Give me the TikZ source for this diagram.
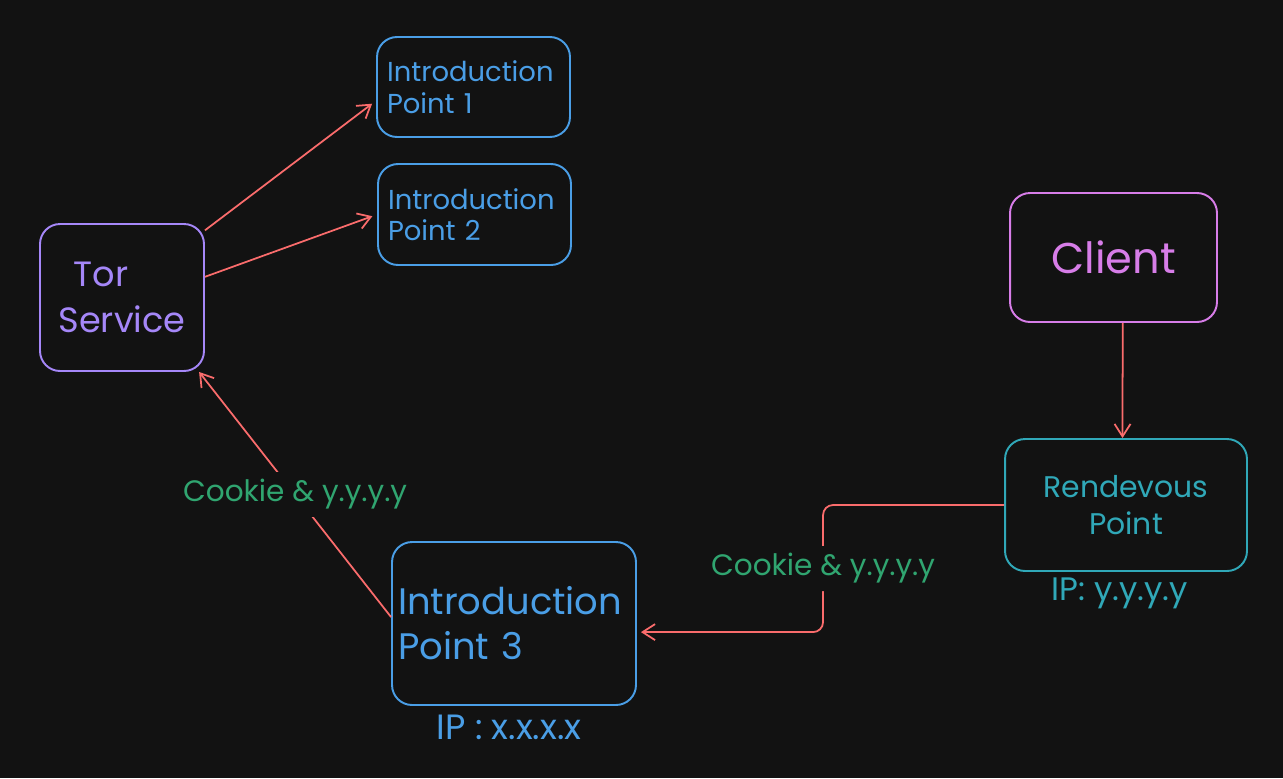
\documentclass[tikz,border=0pt]{standalone}
\usepackage{fontspec}
\setmainfont{Poppins}
\usepackage{tikz}
\usetikzlibrary{positioning}
\usetikzlibrary{arrows.meta}
\usetikzlibrary{calc}
\definecolor{mybg}{RGB}{18,18,18}
\definecolor{mypurple}{RGB}{165,135,248}
\definecolor{myblue}{RGB}{74,158,230}
\definecolor{mypink}{RGB}{215,125,232}
\definecolor{myteal}{RGB}{48,168,184}
\definecolor{myred}{RGB}{250,108,108}
\definecolor{mygreen}{RGB}{48,165,112}

\begin{document}
\begin{tikzpicture}[x=0.02cm,y=-0.02cm,
	lbl/.style={fill=mybg, text=mygreen, inner sep=0.15cm, font=\fontsize{16.8}{19}\selectfont}]
	\fill[mybg] (0,0) rectangle (1283,778);
	\useasboundingbox (0,0) rectangle (1283,778);

	\begin{scope}[every node/.style={rounded corners=0.4cm, line width=1.1pt, draw, inner sep=0.2cm}]
	    \node (tor) [draw=mypurple, text=mypurple, minimum width=3.28cm, minimum height=2.94cm, align=left, font=\fontsize{20}{26}\selectfont] at (122,297.5) {\hspace*{0.3cm}Tor\\Service};
	    \node (ip1) [draw=myblue, text=myblue, text width=3.46cm, minimum height=2cm, align=left, font=\fontsize{15.6}{18}\selectfont] at (473.5,87) {Introduction\\Point 1};
	    \node (ip2) [draw=myblue, text=myblue, text width=3.46cm, minimum height=2.02cm, align=left, font=\fontsize{15.6}{18}\selectfont] at (474.5,214.5) {Introduction\\Point 2};
	    \node (client) [draw=mypink, text=mypink, minimum width=4.14cm, minimum height=2.58cm, font=\fontsize{24.5}{28}\selectfont] at (1113.5,257.5) {Client};
	    \node (rdv) [draw=myteal, text=myteal, minimum width=4.84cm, minimum height=2.64cm, align=center, font=\fontsize{17}{21}\selectfont] at (1126,505) {Rendevous\\Point};
	    \node (ip3) [draw=myblue, text=myblue, inner xsep=0.12cm, text width=4.64cm, minimum height=3.26cm, align=left, font=\fontsize{21}{25.5}\selectfont] at (514,623.5) {Introduction\\Point 3};
	\end{scope}

	\node (ipx) [text=myblue, font=\fontsize{20}{22}\selectfont] at (509,727) {IP : x.x.x.x};
	\node (ipy) [text=myteal, font=\fontsize{18.5}{20}\selectfont] at (1120,593) {IP: y.y.y.y};

	\begin{scope}[>={Straight Barb[length=0.25cm,width=0.32cm]},
	              every edge/.style={draw=myred, line width=1pt}]
    	\path [->] (tor.39) edge[shorten >=0.1cm] (ip1.188);
    	\path [->] (tor.14) edge[shorten >=0.1cm] (ip2.west);
    	\path [->] (ip3.177) edge node[lbl] {Cookie \& y.y.y.y} (tor.-44);
    	\path [->] (client.-82) edge (rdv.93);
    	\draw [->, myred, line width=1pt, rounded corners=0.2cm, shorten >=0.08cm] (rdv.west) -- ++(-181,0) |- node[lbl, pos=0.25] {Cookie \& y.y.y.y} (ip3.-4.5);
	\end{scope}
\end{tikzpicture}
\end{document}
